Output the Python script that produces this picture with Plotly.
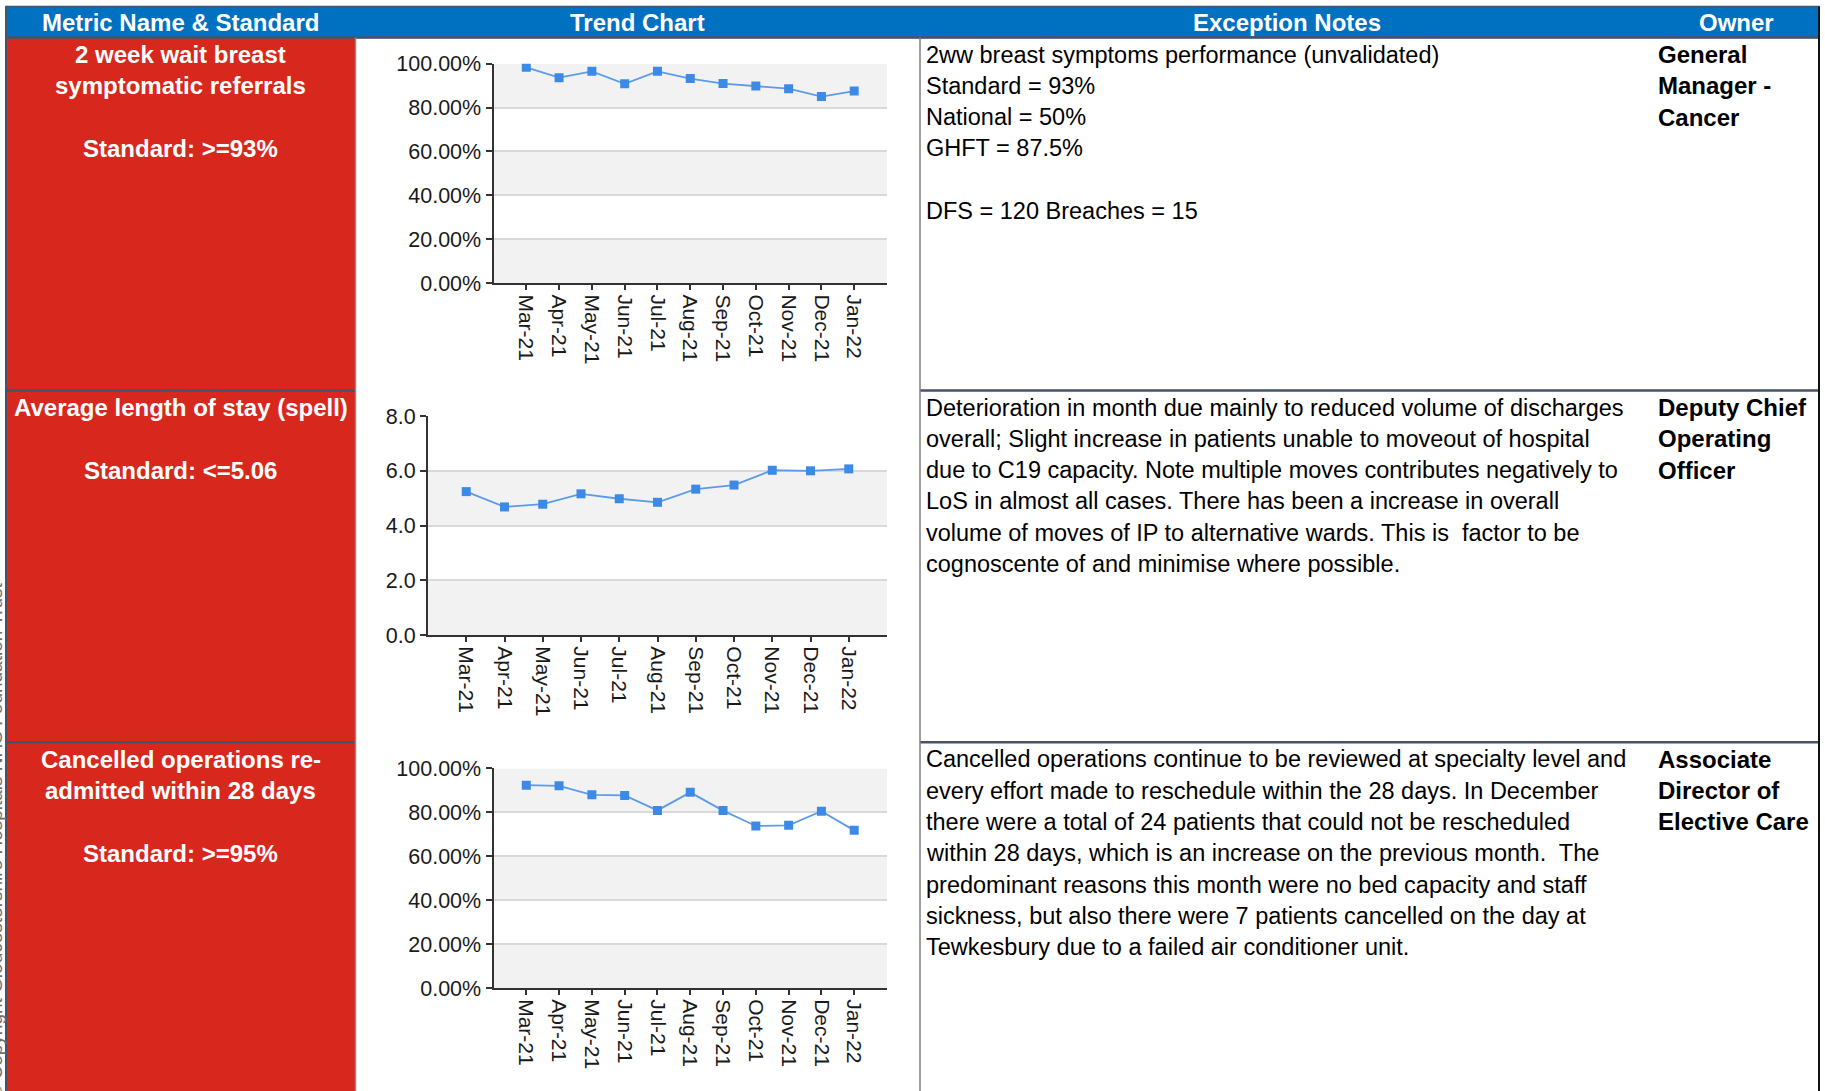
import plotly.graph_objects as go

W, H = 1825, 1091
FONT = "Liberation Sans, Arial, sans-serif"

# ---- data -------------------------------------------------------------
months = ["Mar-21", "Apr-21", "May-21", "Jun-21", "Jul-21", "Aug-21",
          "Sep-21", "Oct-21", "Nov-21", "Dec-21", "Jan-22"]

breast_2ww_pct = [98.3, 93.6, 96.5, 90.8, 96.5, 93.2, 90.9, 89.8, 88.6, 85.0, 87.5]
avg_los_days = [5.24, 4.68, 4.78, 5.16, 4.98, 4.85, 5.33, 5.48, 6.02, 6.00, 6.07]
cancelled_ops_pct = [92.4, 92.1, 88.0, 87.7, 80.9, 89.1, 80.8, 73.8, 74.1, 80.5, 71.8]

pct_ticks = [0, 20, 40, 60, 80, 100]
pct_tick_labels = ["0.00%", "20.00%", "40.00%", "60.00%", "80.00%", "100.00%"]
los_ticks = [0, 2, 4, 6, 8]
los_tick_labels = ["0.0", "2.0", "4.0", "6.0", "8.0"]

headers = ["Metric Name & Standard", "Trend Chart", "Exception Notes", "Owner"]

metric_text = [
    ["2 week wait breast", "symptomatic referrals", "", "Standard: >=93%"],
    ["Average length of stay (spell)", "", "Standard: &lt;=5.06"],
    ["Cancelled operations re-", "admitted within 28 days", "", "Standard: >=95%"],
]

notes_text = [
    ["2ww breast symptoms performance (unvalidated)",
     "Standard = 93%",
     "National = 50%",
     "GHFT = 87.5%",
     "",
     "DFS = 120 Breaches = 15"],
    ["Deterioration in month due mainly to reduced volume of discharges",
     "overall; Slight increase in patients unable to moveout of hospital",
     "due to C19 capacity. Note multiple moves contributes negatively to",
     "LoS in almost all cases. There has been a increase in overall",
     "volume of moves of IP to alternative wards. This is  factor to be",
     "cognoscente of and minimise where possible."],
    ["Cancelled operations continue to be reviewed at specialty level and",
     "every effort made to reschedule within the 28 days. In December",
     "there were a total of 24 patients that could not be rescheduled",
     "within 28 days, which is an increase on the previous month.  The",
     "predominant reasons this month were no bed capacity and staff",
     "sickness, but also there were 7 patients cancelled on the day at",
     "Tewkesbury due to a failed air conditioner unit."],
]

owner_text = [
    ["General", "Manager -", "Cancer"],
    ["Deputy Chief", "Operating", "Officer"],
    ["Associate", "Director of", "Elective Care"],
]

copyright_text = "© Copyright Gloucestershire Hospitals NHS Foundation Trust"

# ---- layout geometry (pixels from the top-left of the page) ---------
# The plotting paper sits slightly inset vertically, so vertical
# positions are mapped through that offset/scale.
Y_OFF, Y_SCALE = 11.5, 0.9755


def px(x):
    return x / W


def py(y):
    return 1 - ((y - Y_OFF) / Y_SCALE) / H


COL_L, COL_RED, COL_NOTES, COL_OWNER, COL_R = 6, 355, 920, 1653, 1819
HEAD_T, HEAD_B = 7, 38
ROW_B = [390, 741]
ROW_T = [HEAD_B, 390, 741]

RED = "#D8281D"
BLUE = "#0070C0"
SEP = "#44546A"
LINE_BLUE = "#5B9BEA"
MARK_BLUE = "#3D8AE6"

charts = [
    dict(y=breast_2ww_pct, ticks=pct_ticks, labels=pct_tick_labels,
         x0=493.5, x1=887, top=64, bottom=283),
    dict(y=avg_los_days, ticks=los_ticks, labels=los_tick_labels,
         x0=428, x1=887, top=415.5, bottom=634),
    dict(y=cancelled_ops_pct, ticks=pct_ticks, labels=pct_tick_labels,
         x0=493.5, x1=887, top=767, bottom=986),
]

fig = go.Figure()
shapes = []
annotations = []
layout_axes = {}

for i, c in enumerate(charts, start=1):
    xa = "x" if i == 1 else f"x{i}"
    ya = "y" if i == 1 else f"y{i}"
    fig.add_trace(go.Scatter(
        x=months, y=c["y"], xaxis=xa, yaxis=ya, mode="lines+markers",
        line=dict(color=LINE_BLUE, width=1.8),
        marker=dict(symbol="square", size=9, color=MARK_BLUE),
        showlegend=False, hoverinfo="x+y",
    ))
    xkey = "xaxis" if i == 1 else f"xaxis{i}"
    ykey = "yaxis" if i == 1 else f"yaxis{i}"
    layout_axes[xkey] = dict(
        domain=[px(c["x0"]), px(c["x1"])], anchor=ya, type="category",
        range=[-1, len(months)], tickangle=90, ticks="outside", ticklen=5,
        tickcolor="#333", tickwidth=1.5, showline=True, linecolor="#333",
        linewidth=2, showgrid=False, zeroline=False,
        tickfont=dict(family=FONT, size=21, color="#1a1a1a"), fixedrange=True,
    )
    layout_axes[ykey] = dict(
        domain=[py(c["bottom"]), py(c["top"])], anchor=xa,
        range=[c["ticks"][0], c["ticks"][-1]], tickvals=c["ticks"],
        ticktext=c["labels"], ticks="outside",
        ticklen=6, tickcolor="#333", tickwidth=1.5, showline=True,
        linecolor="#333", linewidth=2, showgrid=True, gridcolor="#D9D9D9",
        gridwidth=1.5, zeroline=False,
        tickfont=dict(family=FONT, size=21.5, color="#1a1a1a"), fixedrange=True,
    )
    # alternating plot-area bands, lowest band shaded
    t = c["ticks"]
    for k in range(len(t) - 1):
        if k % 2 == 0:
            shapes.append(dict(
                type="rect", xref=f"{xa} domain", yref=ya, x0=0, x1=1,
                y0=t[k], y1=t[k + 1], fillcolor="#F2F2F2", line_width=0,
                layer="below",
            ))

# ---- table cells -------------------------------------------------------
# header band
shapes.append(dict(type="rect", xref="paper", yref="paper",
                   x0=px(COL_L), x1=px(COL_R), y0=py(HEAD_B), y1=py(HEAD_T),
                   fillcolor=BLUE, line=dict(color=SEP, width=1.5), layer="below"))
# red metric column
shapes.append(dict(type="rect", xref="paper", yref="paper",
                   x0=px(COL_L), x1=px(COL_RED), y0=py(H + 20), y1=py(HEAD_B),
                   fillcolor=RED, line_width=0, layer="below"))


def hline(y, x0, x1, color, width):
    shapes.append(dict(type="line", xref="paper", yref="paper",
                       x0=px(x0), x1=px(x1), y0=py(y), y1=py(y),
                       line=dict(color=color, width=width), layer="above"))


def vline(x, y0, y1, color, width):
    shapes.append(dict(type="line", xref="paper", yref="paper",
                       x0=px(x), x1=px(x), y0=py(y0), y1=py(y1),
                       line=dict(color=color, width=width), layer="above"))


hline(HEAD_B, COL_L, COL_R, SEP, 2.5)
for yb in ROW_B:
    hline(yb, COL_L, COL_RED, SEP, 2.5)
    hline(yb, COL_NOTES, COL_R, SEP, 2.5)
vline(COL_L, HEAD_T, H + 20, SEP, 2)
vline(COL_RED + 0.5, HEAD_B, H + 20, "#8C8C8C", 1.5)
vline(COL_NOTES, HEAD_B, H + 20, "#7F7F7F", 1.5)
vline(COL_R, HEAD_T, H + 20, "#111111", 2)

# header labels
head_x = [(COL_L + COL_RED) / 2, (COL_RED + COL_NOTES) / 2,
          (COL_NOTES + COL_OWNER) / 2, (COL_OWNER + COL_R) / 2]
for label, hx in zip(headers, head_x):
    annotations.append(dict(
        x=px(hx), y=py(23), xref="paper", yref="paper", text=f"<b>{label}</b>",
        showarrow=False, xanchor="center", yanchor="middle",
        font=dict(family=FONT, size=24, color="white"),
    ))

LINE_H = 31.2


def add_lines(lines, x, y_first, anchor, color, bold, size):
    for j, line in enumerate(lines):
        if not line:
            continue
        txt = f"<b>{line}</b>" if bold else line
        annotations.append(dict(
            x=px(x), y=py(y_first + j * LINE_H), xref="paper", yref="paper",
            text=txt, showarrow=False, xanchor=anchor, yanchor="middle",
            font=dict(family=FONT, size=size, color=color),
        ))


for r in range(3):
    top = ROW_T[r]
    add_lines(metric_text[r], (COL_L + COL_RED) / 2, top + 17, "center",
              "white", True, 24)
    add_lines(notes_text[r], 924, top + 17, "left", "#000000", False, 23.5)
    add_lines(owner_text[r], 1656, top + 17, "left", "#000000", True, 24)

# vertical copyright notice along the left edge
annotations.append(dict(
    x=px(8), y=py(H + 8), xref="paper", yref="paper", text=copyright_text,
    showarrow=False, textangle=-90, xanchor="right", yanchor="bottom",
    font=dict(family=FONT, size=19, color="#6E6E6E"),
))

fig.update_layout(
    width=W, height=H, autosize=False,
    margin=dict(l=0, r=0, t=0, b=0),
    paper_bgcolor="white", plot_bgcolor="rgba(0,0,0,0)",
    shapes=shapes, annotations=annotations,
    font=dict(family=FONT),
    **layout_axes,
)

fig.write_html("out.html", config={"displayModeBar": False})
